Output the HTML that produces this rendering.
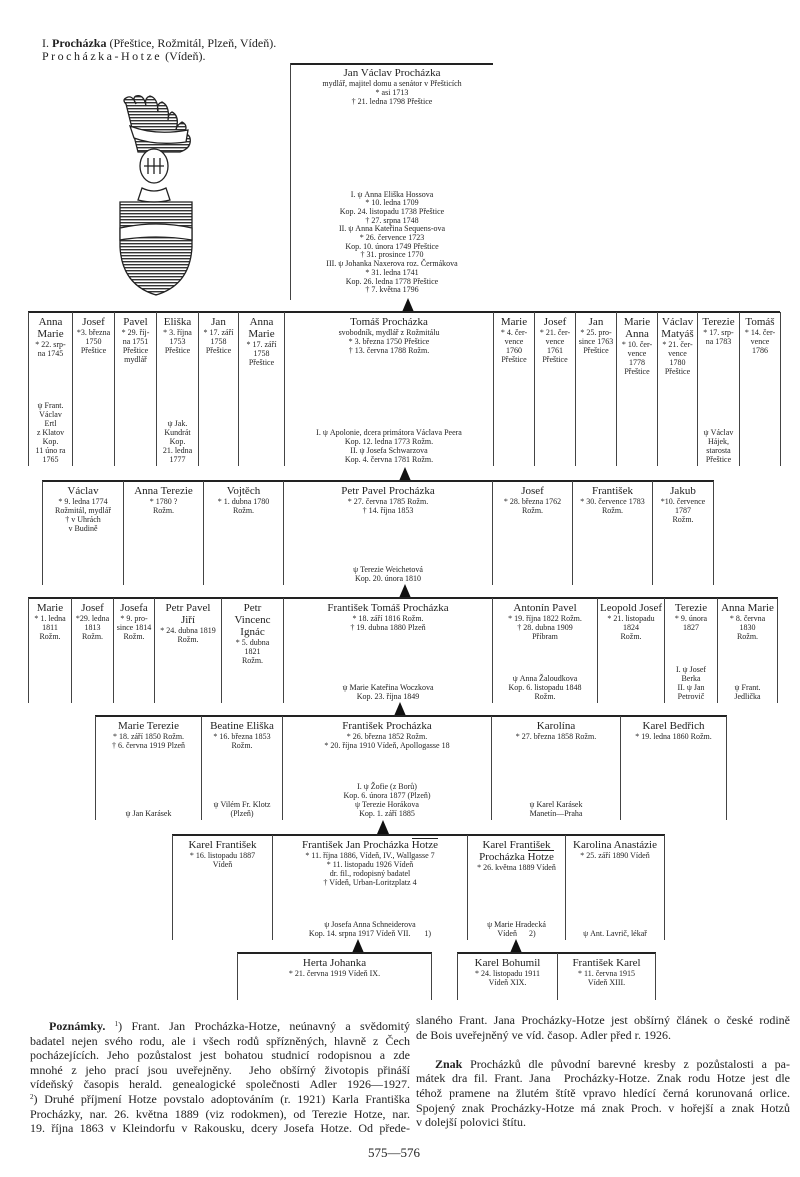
<!DOCTYPE html>
<html><head><meta charset="utf-8">
<style>
body{margin:0;background:#fff;}
#p{position:relative;width:800px;height:1177px;overflow:hidden;font-family:"Liberation Serif",serif;color:#222;}
.c{position:absolute;border-left:1px solid #444;border-right:1px solid #444;box-sizing:border-box;text-align:center;font-size:8px;line-height:9px;padding-top:4px;}
.n{font-size:11px;line-height:12px;display:block;}
.m{position:absolute;left:0;right:0;bottom:2px;text-align:center;}
.t{position:absolute;height:0;border-top:2.5px solid #222;}
.a{position:absolute;width:0;height:0;border-left:6px solid transparent;border-right:6px solid transparent;border-bottom:14px solid #111;}
.fn{position:absolute;font-size:12px;line-height:14.6px;}
.fn div{text-align:justify;text-align-last:justify;white-space:nowrap;height:14.6px;overflow:visible;}
.fn div.l{text-align-last:left;}
.fn sup{font-size:7px;line-height:0;vertical-align:4px;}
</style></head><body><div id="p">

<div style="position:absolute;left:42px;top:37px;font-size:12px;line-height:13px;">I. <b>Procházka</b> (Přeštice, Rožmitál, Plzeň, Vídeň).<br><span style="letter-spacing:2.5px">Procházka-Hotze</span> (Vídeň).</div>

<svg style="position:absolute;left:110px;top:90px" width="100" height="210" viewBox="0 0 100 210">
<defs><pattern id="hs" width="4" height="3" patternUnits="userSpaceOnUse"><rect width="4" height="1.4" fill="#333"/></pattern></defs>
<g stroke="#222" stroke-width="1.3">
<path d="M16 8 Q12 10 16 14 L28 62 L70 62 Q82 58 80 48 Q78 42 72 46 Q80 36 72 32 Q66 36 66 40 Q70 26 62 22 Q58 24 58 30 Q60 16 52 12 Q46 14 48 22 Q48 8 40 6 Q34 8 36 16 Q34 4 26 6 Q22 8 26 14 Q22 4 16 8Z" fill="url(#hs)"/>
<path d="M20 36 Q45 46 78 40 L76 52 Q45 56 24 48 Z" fill="#fff"/>
<ellipse cx="44" cy="76" rx="14" ry="17" fill="#fff"/>
<path d="M34 76 h20 M38 68 v16 M44 68 v16 M50 68 v16" fill="none"/>
<path d="M32 98 Q44 104 56 98 L60 110 Q44 114 28 110Z" fill="#fff"/>
<path d="M10 112 h72 v45 Q80 195 46 205 Q12 195 10 157 Z" fill="url(#hs)"/>
<path d="M10 138 Q46 130 82 138 L82 150 Q46 144 10 150Z" fill="#fff"/>
</g>
</svg>

<!-- gen1 -->
<div class="t" style="left:290px;top:63px;width:203px"></div>
<div class="c" style="left:290px;top:63px;width:203px;height:237px;border-right:none">
<span class="n">Jan Václav Procházka</span>mydlář, majitel domu a senátor v Přešticích<br>* asi 1713<br>† 21. ledna 1798 Přeštice
<div class="m" style="bottom:5px;line-height:8.7px">I. ψ Anna Eliška Hossova<br>* 10. ledna 1709<br>Kop. 24. listopadu 1738 Přeštice<br>† 27. srpna 1748<br>II. ψ Anna Kateřina Sequens-ova<br>* 26. července 1723<br>Kop. 10. února 1749 Přeštice<br>† 31. prosince 1770<br>III. ψ Johanka Naxerova roz. Čermákova<br>* 31. ledna 1741<br>Kop. 26. ledna 1778 Přeštice<br>† 7. května 1796</div></div>
<div class="a" style="left:402px;top:298px"></div>

<!-- gen2 -->
<div class="t" style="left:28px;top:311px;width:752px"></div>
<div class="c" style="left:28px;top:312px;width:45px;height:154px"><span class="n">Anna<br>Marie</span>* 22. srp-<br>na 1745<div class="m">ψ Frant.<br>Václav<br>Ertl<br>z Klatov<br>Kop.<br>11 úno ra<br>1765</div></div>
<div class="c" style="left:72px;top:312px;width:43px;height:154px"><span class="n">Josef</span>*3. března<br>1750<br>Přeštice</div>
<div class="c" style="left:114px;top:312px;width:43px;height:154px"><span class="n">Pavel</span>* 29. říj-<br>na 1751<br>Přeštice<br>mydlář</div>
<div class="c" style="left:156px;top:312px;width:43px;height:154px"><span class="n">Eliška</span>* 3. října<br>1753<br>Přeštice<div class="m">ψ Jak.<br>Kundrát<br>Kop.<br>21. ledna<br>1777</div></div>
<div class="c" style="left:198px;top:312px;width:41px;height:154px"><span class="n">Jan</span>* 17. září<br>1758<br>Přeštice</div>
<div class="c" style="left:238px;top:312px;width:47px;height:154px"><span class="n">Anna<br>Marie</span>* 17. září<br>1758<br>Přeštice</div>
<div class="c" style="left:284px;top:312px;width:210px;height:154px"><span class="n">Tomáš Procházka</span>svobodník, mydlář z Rožmitálu<br>* 3. března 1750 Přeštice<br>† 13. června 1788 Rožm.<div class="m">I. ψ Apolonie, dcera primátora Václava Peera<br>Kop. 12. ledna 1773 Rožm.<br>II. ψ Josefa Schwarzova<br>Kop. 4. června 1781 Rožm.</div></div>
<div class="c" style="left:493px;top:312px;width:42px;height:154px"><span class="n">Marie</span>* 4. čer-<br>vence<br>1760<br>Přeštice</div>
<div class="c" style="left:534px;top:312px;width:42px;height:154px"><span class="n">Josef</span>* 21. čer-<br>vence<br>1761<br>Přeštice</div>
<div class="c" style="left:575px;top:312px;width:42px;height:154px"><span class="n">Jan</span>* 25. pro-<br>since 1763<br>Přeštice</div>
<div class="c" style="left:616px;top:312px;width:42px;height:154px"><span class="n">Marie<br>Anna</span>* 10. čer-<br>vence<br>1778<br>Přeštice</div>
<div class="c" style="left:657px;top:312px;width:41px;height:154px"><span class="n">Václav<br>Matyáš</span>* 21. čer-<br>vence<br>1780<br>Přeštice</div>
<div class="c" style="left:697px;top:312px;width:43px;height:154px"><span class="n">Terezie</span>* 17. srp-<br>na 1783<div class="m">ψ Václav<br>Hájek,<br>starosta<br>Přeštice</div></div>
<div class="c" style="left:739px;top:312px;width:42px;height:154px"><span class="n">Tomáš</span>* 14. čer-<br>vence<br>1786</div>
<div class="a" style="left:399px;top:467px"></div>

<!-- gen3 -->
<div class="t" style="left:42px;top:480px;width:672px"></div>
<div class="c" style="left:42px;top:481px;width:82px;height:104px"><span class="n">Václav</span>* 9. ledna 1774<br>Rožmitál, mydlář<br>† v Uhrách<br>v Budině</div>
<div class="c" style="left:123px;top:481px;width:81px;height:104px"><span class="n">Anna Terezie</span>* 1780 ?<br>Rožm.</div>
<div class="c" style="left:203px;top:481px;width:81px;height:104px"><span class="n">Vojtěch</span>* 1. dubna 1780<br>Rožm.</div>
<div class="c" style="left:283px;top:481px;width:210px;height:104px"><span class="n">Petr Pavel Procházka</span>* 27. června 1785 Rožm.<br>† 14. října 1853<div class="m">ψ Terezie Weichetová<br>Kop. 20. února 1810</div></div>
<div class="c" style="left:492px;top:481px;width:81px;height:104px"><span class="n">Josef</span>* 28. března 1762<br>Rožm.</div>
<div class="c" style="left:572px;top:481px;width:81px;height:104px"><span class="n">František</span>* 30. července 1783<br>Rožm.</div>
<div class="c" style="left:652px;top:481px;width:62px;height:104px"><span class="n">Jakub</span>*10. července<br>1787<br>Rožm.</div>
<div class="a" style="left:399px;top:584px"></div>

<!-- gen4 -->
<div class="t" style="left:28px;top:597px;width:750px"></div>
<div class="c" style="left:28px;top:598px;width:44px;height:105px"><span class="n">Marie</span>* 1. ledna<br>1811<br>Rožm.</div>
<div class="c" style="left:71px;top:598px;width:43px;height:105px"><span class="n">Josef</span>*29. ledna<br>1813<br>Rožm.</div>
<div class="c" style="left:113px;top:598px;width:42px;height:105px"><span class="n">Josefa</span>* 9. pro-<br>since 1814<br>Rožm.</div>
<div class="c" style="left:154px;top:598px;width:68px;height:105px"><span class="n">Petr Pavel<br>Jiří</span>* 24. dubna 1819<br>Rožm.</div>
<div class="c" style="left:221px;top:598px;width:63px;height:105px"><span class="n">Petr<br>Vincenc<br>Ignác</span>* 5. dubna<br>1821<br>Rožm.</div>
<div class="c" style="left:283px;top:598px;width:210px;height:105px"><span class="n">František Tomáš Procházka</span>* 18. září 1816 Rožm.<br>† 19. dubna 1880 Plzeň<div class="m">ψ Marie Kateřina Woczkova<br>Kop. 23. října 1849</div></div>
<div class="c" style="left:492px;top:598px;width:106px;height:105px"><span class="n">Antonín Pavel</span>* 19. října 1822 Rožm.<br>† 28. dubna 1909<br>Příbram<div class="m">ψ Anna Žaloudkova<br>Kop. 6. listopadu 1848<br>Rožm.</div></div>
<div class="c" style="left:597px;top:598px;width:68px;height:105px"><span class="n">Leopold Josef</span>* 21. listopadu<br>1824<br>Rožm.</div>
<div class="c" style="left:664px;top:598px;width:54px;height:105px"><span class="n">Terezie</span>* 9. února<br>1827<div class="m">I. ψ Josef<br>Berka<br>II. ψ Jan<br>Petrovič</div></div>
<div class="c" style="left:717px;top:598px;width:61px;height:105px"><span class="n">Anna Marie</span>* 8. června<br>1830<br>Rožm.<div class="m">ψ Frant.<br>Jedlička</div></div>
<div class="a" style="left:394px;top:702px"></div>

<!-- gen5 -->
<div class="t" style="left:95px;top:715px;width:632px"></div>
<div class="c" style="left:95px;top:716px;width:107px;height:104px"><span class="n">Marie Terezie</span>* 18. září 1850 Rožm.<br>† 6. června 1919 Plzeň<div class="m">ψ Jan Karásek</div></div>
<div class="c" style="left:201px;top:716px;width:82px;height:104px"><span class="n">Beatine Eliška</span>* 16. března 1853<br>Rožm.<div class="m">ψ Vilém Fr. Klotz<br>(Plzeň)</div></div>
<div class="c" style="left:282px;top:716px;width:210px;height:104px"><span class="n">František Procházka</span>* 26. března 1852 Rožm.<br>* 20. října 1910 Vídeň, Apollogasse 18<div class="m">I. ψ Žofie (z Borů)<br>Kop. 6. února 1877 (Plzeň)<br>ψ Terezie Horákova<br>Kop. 1. září 1885</div></div>
<div class="c" style="left:491px;top:716px;width:130px;height:104px"><span class="n">Karolína</span>* 27. března 1858 Rožm.<div class="m">ψ Karel Karásek<br>Manetín—Praha</div></div>
<div class="c" style="left:620px;top:716px;width:107px;height:104px"><span class="n">Karel Bedřich</span>* 19. ledna 1860 Rožm.</div>
<div class="a" style="left:377px;top:820px"></div>

<!-- gen6 -->
<div class="t" style="left:172px;top:834px;width:493px"></div>
<div class="c" style="left:172px;top:835px;width:101px;height:105px"><span class="n">Karel František</span>* 16. listopadu 1887<br>Vídeň</div>
<div class="c" style="left:272px;top:835px;width:196px;height:105px"><span class="n">František Jan Procházka <span style="border-top:1px solid #222">Hotze</span></span>* 11. října 1886, Vídeň, IV., Wallgasse 7<br>* 11. listopadu 1926 Vídeň<br>dr. fil., rodopisný badatel<br>† Vídeň, Urban-Loritzplatz 4<div class="m">ψ Josefa Anna Schneiderova<br>Kop. 14. srpna 1917 Vídeň VII. &nbsp; &nbsp; &nbsp; 1)</div></div>
<div class="c" style="left:467px;top:835px;width:99px;height:105px"><span class="n">Karel František<br>Procházka <span style="border-top:1px solid #222">Hotze</span></span>* 26. května 1889 Vídeň<div class="m">ψ Marie Hradecká<br>Vídeň &nbsp; &nbsp; &nbsp;2)</div></div>
<div class="c" style="left:565px;top:835px;width:100px;height:105px"><span class="n">Karolina Anastázie</span>* 25. září 1890 Vídeň<div class="m">ψ Ant. Lavrič, lékař</div></div>
<div class="a" style="left:352px;top:939px"></div>
<div class="a" style="left:510px;top:939px"></div>

<!-- gen7 -->
<div class="t" style="left:237px;top:952px;width:195px"></div>
<div class="c" style="left:237px;top:953px;width:195px;height:47px"><span class="n">Herta Johanka</span>* 21. června 1919 Vídeň IX.</div>
<div class="t" style="left:457px;top:952px;width:199px"></div>
<div class="c" style="left:457px;top:953px;width:101px;height:47px"><span class="n">Karel Bohumil</span>* 24. listopadu 1911<br>Vídeň XIX.</div>
<div class="c" style="left:557px;top:953px;width:99px;height:47px"><span class="n">František Karel</span>* 11. června 1915<br>Vídeň XIII.</div>

<div class="fn" style="left:30px;top:1019px;width:380px;">
<div style="padding-left:19px"><b>Poznámky.</b> <sup>1</sup>) Frant. Jan Procházka-Hotze, neúnavný a svědomitý</div>
<div>badatel nejen svého rodu, ale i všech rodů spřízněných, hlavně z Čech</div>
<div>pocházejících. Jeho pozůstalost jest bohatou studnicí rodopisnou a zde</div>
<div>mnohé z jeho prací jsou uveřejněny. &nbsp;Jeho obšírný životopis přináší</div>
<div>vídeňský časopis herald. genealogické společnosti Adler 1926—1927.</div>
<div><sup>2</sup>) Druhé příjmení Hotze povstalo adoptováním (r. 1921) Karla Františka</div>
<div>Procházky, nar. 26. května 1889 (viz rodokmen), od Terezie Hotze, nar.</div>
<div>19. října 1863 v Kleindorfu v Rakousku, dcery Josefa Hotze. Od přede-</div>
</div>
<div class="fn" style="left:416px;top:1013px;width:374px;">
<div>slaného Frant. Jana Procházky-Hotze jest obšírný článek o české rodině</div>
<div class="l">de Bois uveřejněný ve víd. časop. Adler před r. 1926.</div>
<div class="l"></div>
<div style="padding-left:19px"><b>Znak</b> Procházků dle původní barevné kresby z pozůstalosti a pa-</div>
<div>mátek dra fil. Frant. Jana &nbsp;Procházky-Hotze. Znak rodu Hotze jest dle</div>
<div>téhož pramene na žlutém štítě vpravo hledící černá korunovaná orlice.</div>
<div>Spojený znak Procházky-Hotze má znak Proch. v hořejší a znak Hotzů</div>
<div class="l">v dolejší polovici štítu.</div>
</div>
<div style="position:absolute;left:368px;top:1145px;font-size:13px;">575—576</div>
</div></body></html>
